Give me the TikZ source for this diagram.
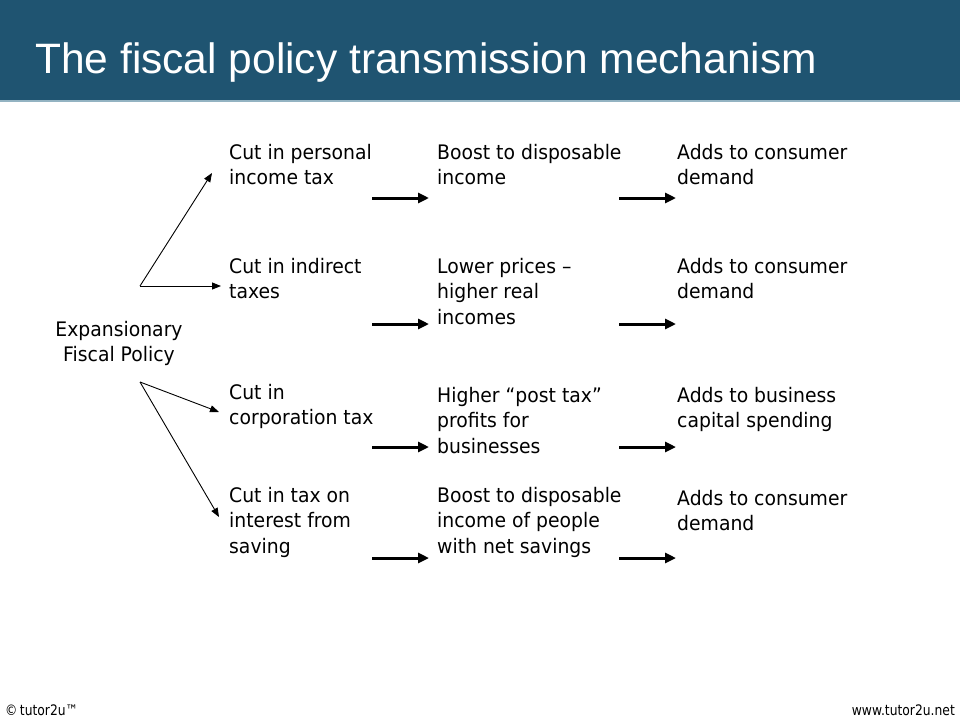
\documentclass[tikz,border=0pt]{standalone}
\usepackage{fontspec}
\setmainfont{DejaVu Sans}
\newfontfamily\titlefont{Liberation Sans}
\newfontfamily\bodyfont[FakeStretch=0.94]{DejaVu Sans}
\newfontfamily\footfont[FakeStretch=0.85]{DejaVu Sans}
\usetikzlibrary{arrows.meta}
\definecolor{headblue}{HTML}{1F5471}
\definecolor{headline}{HTML}{93B3C2}
\newcommand{\fstrut}{\rule{0pt}{15pt}}
\tikzset{
  txt/.style={anchor=north west, inner sep=0pt, align=left,
    font=\bodyfont\fontsize{20}{25.5}\selectfont, text=black},
  thick arrow/.style={line width=3pt, -{Triangle[length=11pt,width=10pt]}},
  thin arrow/.style={line width=0.9pt, -{Triangle[length=9pt,width=7pt]}},
}
\begin{document}
\begin{tikzpicture}[x=1pt,y=-1pt]
\useasboundingbox (0,0) rectangle (960,720);
\fill[white] (0,0) rectangle (960,720);
% header
\fill[headblue] (0,0) rectangle (960,99.5);
\fill[headline] (0,99.5) rectangle (960,101.5);
\node[anchor=base west, inner sep=0pt, text=white,
  font=\titlefont\fontsize{42.5}{48}\selectfont] (title) at (35,73)
  {The fiscal policy transmission mechanism};

% left node
\node[anchor=north, inner sep=0pt, align=center,
  font=\bodyfont\fontsize{20}{25}\selectfont] (exp) at (119,321)
  {\fstrut Expansionary\\Fiscal Policy};

% column 1
\node[txt] (c11) at (229,144) {\fstrut Cut in personal\\income tax};
\node[txt] (c12) at (229,258) {\fstrut Cut in indirect\\taxes};
\node[txt] (c13) at (229,384) {\fstrut Cut in\\corporation tax};
\node[txt] (c14) at (229,487) {\fstrut Cut in tax on\\interest from\\saving};

% column 2
\node[txt] (c21) at (437,144) {\fstrut Boost to disposable\\income};
\node[txt] (c22) at (437,258) {\fstrut Lower prices –\\higher real\\incomes};
\node[txt] (c23) at (437,387) {\fstrut Higher “post tax”\\profits for\\businesses};
\node[txt] (c24) at (437,487) {\fstrut Boost to disposable\\income of people\\with net savings};

% column 3
\node[txt] (c31) at (677,144) {\fstrut Adds to consumer\\demand};
\node[txt] (c32) at (677,258) {\fstrut Adds to consumer\\demand};
\node[txt] (c33) at (677,387) {\fstrut Adds to business\\capital spending};
\node[txt] (c34) at (677,490) {\fstrut Adds to consumer\\demand};

% thin arrow coordinates
\coordinate (s1) at (140,286);
\coordinate (s2) at (140,382);
\coordinate (t11) at (212,173);
\coordinate (t12) at (221,286);
\coordinate (t13) at (219,412);
\coordinate (t14) at (219,517);
\draw[thin arrow] (s1) -- (t11);
\draw[thin arrow] (s1) -- (t12);
\draw[thin arrow] (s2) -- (t13);
\draw[thin arrow] (s2) -- (t14);

% thick arrows
\foreach \i/\y in {1/198,2/324,3/447,4/558}{
  \coordinate (a\i s) at (372,\y);
  \coordinate (a\i e) at (429,\y);
  \coordinate (b\i s) at (619,\y);
  \coordinate (b\i e) at (676,\y);
  \draw[thick arrow] (a\i s) -- (a\i e);
  \draw[thick arrow] (b\i s) -- (b\i e);
}

% footer
\node[anchor=base west, inner sep=0pt, font=\footfont\fontsize{14.5}{16}\selectfont]
  (copy) at (5,715) {©\,tutor2u™};
\node[anchor=base east, inner sep=0pt, font=\footfont\fontsize{14.5}{16}\selectfont]
  (web) at (955,715) {www.tutor2u.net};
\end{tikzpicture}
\end{document}
